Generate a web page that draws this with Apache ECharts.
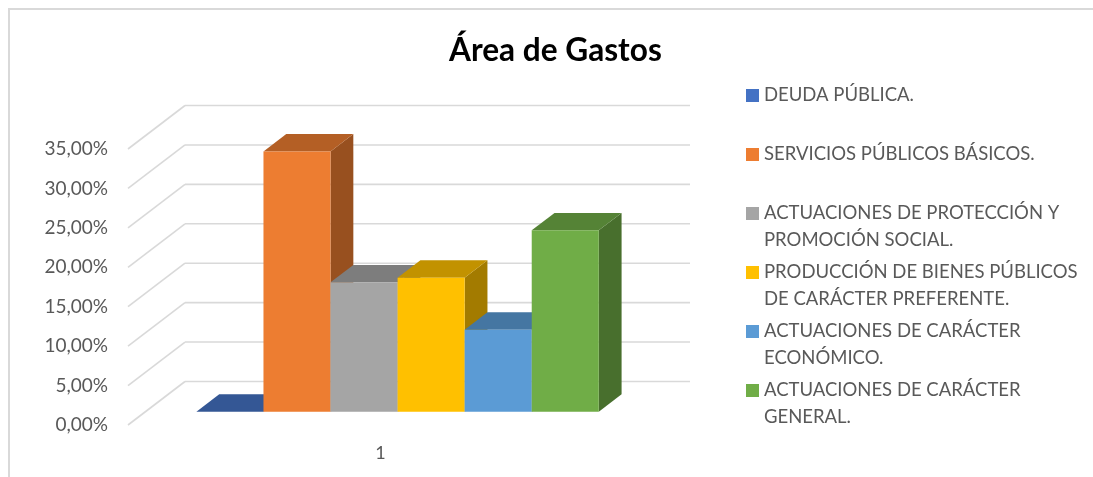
<!DOCTYPE html>
<html>
<head>
<meta charset="utf-8">
<style>
  html, body { margin: 0; padding: 0; background: #fff; }
  #chart { width: 1093px; height: 477px; }
</style>
<script src="https://cdn.jsdelivr.net/npm/echarts@6/dist/echarts.min.js"></script>
</head>
<body>
<div id="chart"></div>
<script>
var categories = ["1"];
var yTicks = [0, 5, 10, 15, 20, 25, 30, 35];
var seriesNames = [
  "DEUDA PÚBLICA.",
  "SERVICIOS PÚBLICOS BÁSICOS.",
  "ACTUACIONES DE PROTECCIÓN Y\nPROMOCIÓN SOCIAL.",
  "PRODUCCIÓN DE BIENES PÚBLICOS\nDE CARÁCTER PREFERENTE.",
  "ACTUACIONES DE CARÁCTER\nECONÓMICO.",
  "ACTUACIONES DE CARÁCTER\nGENERAL."
];
var seriesValues = [0, 33.0, 16.4, 17.0, 10.4, 23.0];
var colors = ["#4472C4", "#ED7D31", "#A5A5A5", "#FFC000", "#5B9BD5", "#70AD47"];

// 3d look: how far the back wall sits from the front plane
var wallDx = 57, wallDy = -43.5;
var barFront = 0.30, barBack = 0.70;
var barShare = 0.1328;

function shade(hex, k) {
  var n = parseInt(hex.slice(1), 16);
  var r = Math.round((n >> 16 & 255) * k);
  var g = Math.round((n >> 8 & 255) * k);
  var b = Math.round((n & 255) * k);
  return "rgb(" + r + "," + g + "," + b + ")";
}

function renderWall(params, api) {
  var p = api.coord([0, api.value(0)]);
  var w = api.size([1, 0])[0];
  var left = p[0] - w / 2;
  var style = { stroke: "#D9D9D9", lineWidth: 1.6, fill: null };
  return {
    type: "group",
    children: [
      {
        type: "line",
        shape: { x1: left, y1: p[1], x2: left + wallDx, y2: p[1] + wallDy },
        style: style
      },
      {
        type: "line",
        shape: { x1: left + wallDx, y1: p[1] + wallDy, x2: left + wallDx + w, y2: p[1] + wallDy },
        style: style
      }
    ]
  };
}

function renderBar(index) {
  return function (params, api) {
    var top = api.coord([0, api.value(0)]);
    var base = api.coord([0, 0]);
    var w = api.size([1, 0])[0] * barShare;
    var x0 = top[0] + wallDx * barFront + (index - 3) * w;
    var x1 = x0 + w;
    var yTop = top[1] + wallDy * 0.306;
    var yBase = base[1] + wallDy * 0.306;
    var dx = wallDx * (barBack - barFront);
    var dy = wallDy * (barBack - barFront);
    var c = colors[index];
    var children = [];
    children.push({
      type: "polygon",
      shape: { points: [[x1, yTop], [x1 + dx, yTop + dy], [x1 + dx, yBase + dy], [x1, yBase]] },
      style: { fill: shade(c, 0.64) }
    });
    children.push({
      type: "polygon",
      shape: { points: [[x0, yTop], [x1, yTop], [x1 + dx, yTop + dy], [x0 + dx, yTop + dy]] },
      style: { fill: shade(c, 0.76) }
    });
    children.push({
      type: "rect",
      shape: { x: x0, y: yTop, width: w, height: yBase - yTop },
      style: { fill: c }
    });
    return { type: "group", children: children };
  };
}

var series = [{
  type: "custom",
  name: "walls",
  silent: true,
  z: 1,
  renderItem: renderWall,
  encode: { y: 0 },
  data: yTicks.map(function (t) { return [t]; })
}];
seriesNames.forEach(function (name, i) {
  series.push({
    type: "custom",
    name: name,
    z: 2 + i,
    itemStyle: { color: colors[i] },
    renderItem: renderBar(i),
    encode: { y: 0 },
    data: [[seriesValues[i]]]
  });
});

var chart = echarts.init(document.getElementById("chart"), null, { renderer: "canvas" });
chart.setOption({
  animation: false,
  backgroundColor: "#ffffff",
  textStyle: { fontFamily: "Lato" },
  title: {
    text: "Área de Gastos",
    left: 444,
    top: 30,
    textStyle: { fontFamily: "Lato", fontSize: 31.6, fontWeight: "bold", color: "#000000" }
  },
  graphic: [{
    type: "rect",
    silent: true,
    shape: { x: 9, y: 9, width: 1400, height: 800 },
    style: { fill: null, stroke: "#D9D9D9", lineWidth: 2 },
    z: 0
  }],
  grid: { left: 128, top: 149, width: 505, height: 276 },
  xAxis: {
    type: "category",
    data: categories,
    axisLine: { show: false },
    axisTick: { show: false },
    axisLabel: { margin: 19, fontSize: 18, color: "#595959", fontFamily: "Lato" }
  },
  yAxis: {
    type: "value",
    min: 0,
    max: 35,
    interval: 5,
    axisLine: { show: false },
    axisTick: { show: false },
    splitLine: { show: false },
    axisLabel: {
      margin: 20,
      fontSize: 19,
      color: "#595959",
      fontFamily: "Lato",
      formatter: function (v) { return v.toFixed(2).replace(".", ",") + "%"; }
    }
  },
  legend: {
    orient: "vertical",
    left: 741,
    top: 50,
    data: seriesNames,
    itemWidth: 13,
    itemHeight: 13,
    itemGap: -22,
    icon: "rect",
    selectedMode: false,
    formatter: function (name) {
      return "\n" + name + (name.indexOf("\n") < 0 ? "\n" : "");
    },
    textStyle: { fontFamily: "Lato", fontSize: 18.5, color: "#595959", lineHeight: 27 }
  },
  series: series
});
</script>
</body>
</html>
